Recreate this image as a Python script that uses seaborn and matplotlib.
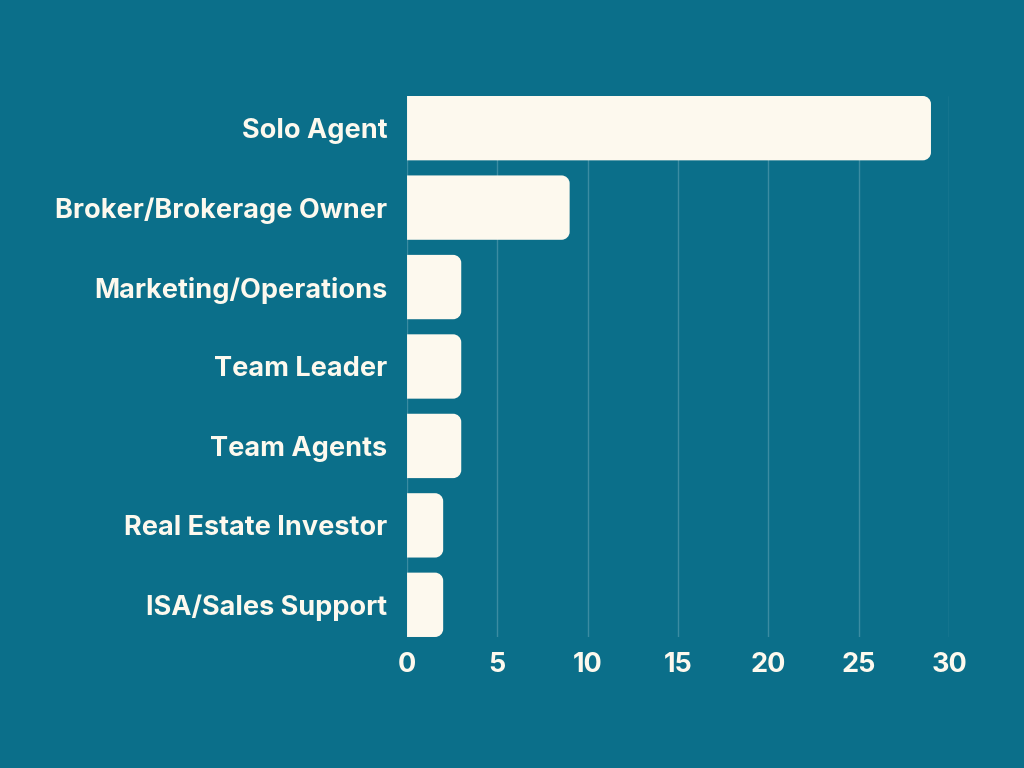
import seaborn as sns
import matplotlib.pyplot as plt
import pandas as pd
from matplotlib.path import Path
from matplotlib.patches import PathPatch

# Data
roles = ["Solo Agent", "Broker/Brokerage Owner", "Marketing/Operations",
         "Team Leader", "Team Agents", "Real Estate Investor", "ISA/Sales Support"]
counts = [29, 9, 3, 3, 3, 2, 2]

bg = "#0b6f8a"
bar_color = "#fdf9ee"
grid_color = "#3b8ca2"

df = pd.DataFrame({"role": roles, "count": counts})

sns.set_theme(style="white")
plt.rcParams["font.family"] = ["Inter", "DejaVu Sans"]

fig = plt.figure(figsize=(10.24, 7.68), dpi=100, facecolor=bg)
ax = fig.add_axes([0.3975, 0.1706, 0.5293, 0.7044])
ax.set_facecolor(bg)

sns.barplot(data=df, x="count", y="role", color=bar_color, width=0.81,
            saturation=1, ax=ax, zorder=2)

ax.set_xlim(0, 30)
ax.set_ylim(len(roles) - 1 + 0.405, -0.405)
ax.set_xticks(range(0, 31, 5))
ax.grid(axis="x", color=grid_color, linewidth=1, zorder=0)
ax.set_axisbelow(True)
for s in ax.spines.values():
    s.set_visible(False)
ax.set_xlabel("")
ax.set_ylabel("")
ax.tick_params(axis="both", length=0, labelsize=19.5, colors=bar_color)
ax.tick_params(axis="x", pad=11)
ax.tick_params(axis="y", pad=14)
for lab in ax.get_xticklabels() + ax.get_yticklabels():
    lab.set_fontweight("bold")

# replace the bars with ones rounded on the right end only
rx = 0.45   # corner radius in x data units
ry = 0.10   # same radius in y data units
k = 0.5523  # bezier circle constant
for p in list(ax.patches):
    x, y, w, h = p.get_x(), p.get_y(), p.get_width(), p.get_height()
    p.remove()
    x1, y1 = x + w, y + h
    verts = [
        (x, y), (x1 - rx, y),
        (x1 - rx + k * rx, y), (x1, y + ry - k * ry), (x1, y + ry),
        (x1, y1 - ry),
        (x1, y1 - ry + k * ry), (x1 - rx + k * rx, y1), (x1 - rx, y1),
        (x, y1), (x, y),
    ]
    codes = [Path.MOVETO, Path.LINETO,
             Path.CURVE4, Path.CURVE4, Path.CURVE4,
             Path.LINETO,
             Path.CURVE4, Path.CURVE4, Path.CURVE4,
             Path.LINETO, Path.CLOSEPOLY]
    ax.add_patch(PathPatch(Path(verts, codes), facecolor=bar_color,
                           edgecolor="none", zorder=2))

fig.savefig("out.png", dpi=100, facecolor=bg)
